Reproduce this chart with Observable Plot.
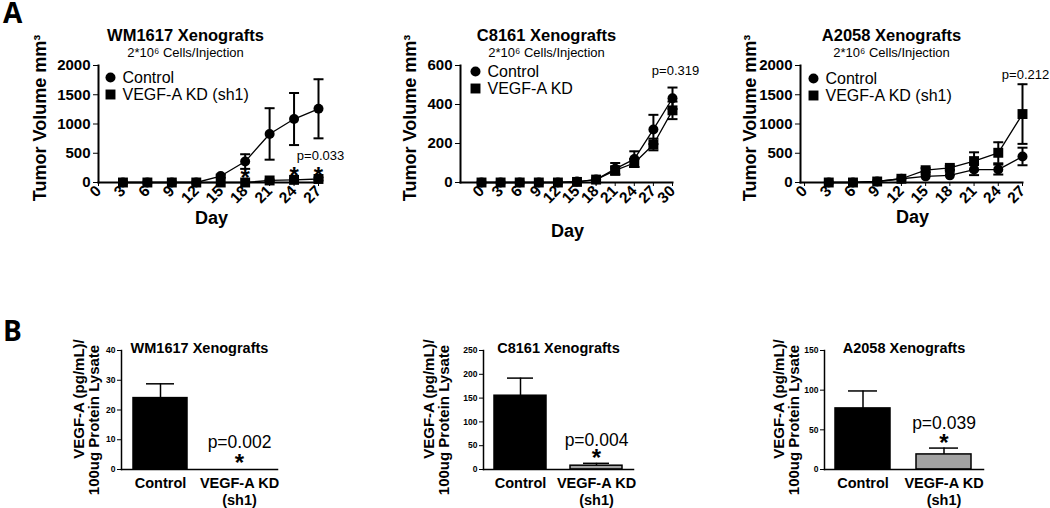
<!DOCTYPE html>
<html><head><meta charset="utf-8">
<script src="https://cdn.jsdelivr.net/npm/d3@7"></script>
<script src="https://cdn.jsdelivr.net/npm/@observablehq/plot@0.6"></script>
<style>
body{margin:0;background:#fff;}
#wrap{position:relative;width:1050px;height:508px;font-family:"Liberation Sans",Arial,sans-serif;overflow:hidden;}
.panel{position:absolute;}
.letter{position:absolute;font-weight:bold;font-size:28px;line-height:28px;font-family:"Open Sans","Liberation Sans",sans-serif;}
</style></head><body><div id="wrap"><div class="letter" style="left:3px;top:-2px;">A</div><div class="letter" style="left:3px;top:316px;">B</div></div>
<script>
// ---------- Panel A data ----------
const seriesNames = ["Control", "VEGF-A KD (sh1)"];
const seriesNamesC8161 = ["Control", "VEGF-A KD"];

const wmDays = [3, 6, 9, 12, 15, 18, 21, 24, 27];
const wmControl = [0, 0, 0, 0, 110, 358, 830, 1085, 1260];
const wmControlErr = [0, 0, 0, 0, 25, 125, 440, 445, 505];
const wmKD = [0, 0, 0, 0, 0, 0, 35, 45, 60];
const wmKDErr = [0, 0, 0, 0, 0, 0, 15, 20, 25];
const wmStarDays = [18, 24, 27];
const wmStarValues = [176, 215, 215];

const c8Days = [0, 3, 6, 9, 12, 15, 18, 21, 24, 27, 30];
const c8Control = [0, 0, 0, 0, 0, 5, 15, 70, 120, 272, 432];
const c8ControlErr = [0, 0, 0, 0, 0, 0, 0, 30, 40, 75, 55];
const c8KD = [0, 0, 0, 0, 0, 3, 15, 62, 100, 195, 370];
const c8KDErr = [0, 0, 0, 0, 0, 0, 0, 20, 20, 30, 45];

const a2Days = [3, 6, 9, 12, 15, 18, 21, 24, 27];
const a2Control = [0, 0, 17, 64, 105, 122, 221, 221, 445];
const a2ControlErr = [0, 0, 0, 0, 0, 0, 95, 85, 150];
const a2KD = [0, 0, 17, 64, 210, 250, 366, 508, 1170];
const a2KDErr = [0, 0, 0, 0, 35, 35, 150, 180, 510];

const xTicks27 = [0, 3, 6, 9, 12, 15, 18, 21, 24, 27];
const xTicks30 = [0, 3, 6, 9, 12, 15, 18, 21, 24, 27, 30];
const yTicks2000 = [0, 500, 1000, 1500, 2000];
const yTicks600 = [0, 200, 400, 600];

const pLabelsA = ["p=0.033", "p=0.319", "p=0.212"];
const pValuesA = [461, 571, 1847];
const titlesA = ["WM1617 Xenografts", "C8161 Xenografts", "A2058 Xenografts"];
const subtitleA = "2*10\u2076 Cells/Injection";
const yTitleA = "Tumor Volume mm\u00B3";
const xTitleA = "Day";

// ---------- Panel B data ----------
const barGroups = ["Control", "VEGF-A KD\n(sh1)"];
const wmBar = [24, 0];
const wmBarErr = [4.8, 0];
const c8Bar = [155, 8];
const c8BarErr = [37, 5];
const a2Bar = [77, 19];
const a2BarErr = [22, 8];
const wmBarTicks = [0, 10, 20, 30, 40];
const c8BarTicks = [0, 50, 100, 150, 200, 250];
const a2BarTicks = [0, 50, 100, 150];
const pLabelsB = ["p=0.002", "p=0.004", "p=0.039"];
const pValuesB = [9.2, 62, 58];
const starValuesB = [4.1, 36, 40.7];
const yTitleB = ["VEGF-A (pg/mL)/", "100ug Protein Lysate"];

const FONT = "'Liberation Sans', Arial, sans-serif";
const capSymbol = {
  draw(ctx, size) {
    const w = Math.sqrt(size / Math.PI);
    ctx.moveTo(-w, 0);
    ctx.lineTo(w, 0);
  }
};

function rows(days, vals, errs, s) {
  return days.map((d, i) => ({day: d, v: vals[i], lo: vals[i] - errs[i], hi: vals[i] + errs[i], e: errs[i], s}));
}

function lineChart(c) {
  const ctrl = rows(c.days, c.ctrl, c.ctrlErr, c.names[0]);
  const kd = rows(c.days, c.kd, c.kdErr, c.names[1]);
  const all = ctrl.concat(kd);
  const withErr = all.filter(d => d.e > 0);
  const marks = [
    Plot.ruleX(withErr, {x: "day", y1: "lo", y2: "hi", stroke: "black", strokeWidth: 2}),
    Plot.dot(withErr, {x: "day", y: "hi", symbol: capSymbol, r: 5, fill: "none", stroke: "black", strokeWidth: 2}),
    Plot.dot(withErr, {x: "day", y: "lo", symbol: capSymbol, r: 5, fill: "none", stroke: "black", strokeWidth: 2}),
    Plot.line(all, {x: "day", y: "v", z: "s", stroke: "black", strokeWidth: 1.3}),
    Plot.dot(ctrl, {x: "day", y: "v", r: 5, fill: "black", stroke: "none"}),
    Plot.dot(kd, {x: "day", y: "v", r: 5.6, symbol: "square", fill: "black", stroke: "none"}),
    Plot.frame({anchor: "left", strokeWidth: 2}),
    Plot.frame({anchor: "bottom", strokeWidth: 2}),
    Plot.axisY({ticks: c.yTicks, tickSize: 5, tickPadding: 3, fontSize: 15, fontWeight: "bold", label: null, tickFormat: d => String(d)}),
    Plot.axisX({ticks: c.xTicks, tickRotate: -45, tickSize: 4, tickPadding: 2, fontSize: 15.5, fontWeight: "bold", label: null, tickFormat: d => String(d)}),
    // legend
    Plot.dot([c.names[0]], {frameAnchor: "top-left", dx: c.lgDx, dy: c.lgDy, r: 5, fill: "black"}),
    Plot.dot([c.names[1]], {frameAnchor: "top-left", dx: c.lgDx, dy: c.lgDy + 17, r: 5.6, symbol: "square", fill: "black"}),
    Plot.text([c.names[0]], {frameAnchor: "top-left", dx: c.lgDx + 12, dy: c.lgDy, text: d => d, textAnchor: "start", lineAnchor: "middle", fontSize: 16}),
    Plot.text([c.names[1]], {frameAnchor: "top-left", dx: c.lgDx + 12, dy: c.lgDy + 17, text: d => d, textAnchor: "start", lineAnchor: "middle", fontSize: 16}),
    // titles
    Plot.text([c.title], {frameAnchor: "top", dx: c.titleDx, dy: -30, text: d => d, fontSize: 16.5, fontWeight: "bold", lineAnchor: "middle", textAnchor: "middle"}),
    Plot.text([subtitleA], {frameAnchor: "top", dx: c.titleDx, dy: -13, text: d => d, fontSize: 13, lineAnchor: "middle", textAnchor: "middle"}),
    Plot.text([xTitleA], {frameAnchor: "bottom", dx: c.dayDx, dy: c.dayDy, text: d => d, fontSize: 18, fontWeight: "bold", lineAnchor: "middle", textAnchor: "middle"}),
    Plot.text([yTitleA], {frameAnchor: "left", dx: c.yTitleDx, dy: -6, rotate: -90, text: d => d, fontSize: 18, fontWeight: "bold", lineAnchor: "middle", textAnchor: "middle"}),
    Plot.text([{day: c.pDay, y: c.pY, t: c.pText}], {x: "day", y: "y", text: "t", dx: c.pDx, fontSize: 13, lineAnchor: "middle"})
  ];
  if (c.stars) {
    marks.push(Plot.text(c.stars, {x: "day", y: "y", text: () => "*", fontSize: 24, fontWeight: "bold", dy: 6, lineAnchor: "middle"}));
  }
  return Plot.plot({
    width: 350, height: 240,
    marginTop: 65, marginBottom: 58, marginLeft: c.mL, marginRight: c.mR,
    style: {fontFamily: FONT, background: "transparent", color: "black", overflow: "visible"},
    x: {domain: c.xDomain},
    y: {domain: [0, c.yMax]},
    marks
  });
}

function barChart(c) {
  const data = barGroups.map((g, i) => ({g, v: c.values[i], hi: c.values[i] + c.errs[i], e: c.errs[i], color: i === 0 ? "black" : "#a3a3a3"}));
  const withErr = data.filter(d => d.e > 0);
  return Plot.plot({
    width: 350, height: 198,
    marginTop: 40, marginBottom: 39, marginLeft: c.mL, marginRight: c.mR,
    style: {fontFamily: FONT, background: "transparent", color: "black", overflow: "visible"},
    x: {type: "band", domain: barGroups, paddingInner: 0.32, paddingOuter: 0.14},
    y: {domain: [0, c.yMax]},
    color: {type: "identity"},
    marks: [
      Plot.ruleX(withErr, {x: "g", y1: "v", y2: "hi", stroke: "black", strokeWidth: 1.5}),
      Plot.tickY(withErr, {x: "g", y: "hi", insetLeft: 13, insetRight: 13, stroke: "black", strokeWidth: 1.5}),
      Plot.barY(data, {x: "g", y: "v", fill: "color", stroke: "black", strokeWidth: 1.5}),
      Plot.frame({anchor: "left", strokeWidth: 1.5}),
      Plot.frame({anchor: "bottom", strokeWidth: 1.5}),
      Plot.axisY({ticks: c.ticks, tickSize: 4, tickPadding: 2, fontSize: 8.5, fontWeight: "bold", label: null, tickFormat: d => String(d)}),
      Plot.axisX({tickSize: 0, tickPadding: 7, fontSize: 14.5, fontWeight: "bold", label: null, lineHeight: 1.15}),
      Plot.text([c.title], {frameAnchor: "top", dy: -2, text: d => d, fontSize: 14.5, fontWeight: "bold", lineAnchor: "middle", textAnchor: "middle"}),
      Plot.text([yTitleB[0]], {frameAnchor: "left", dx: 79 - c.mL, dy: -11, rotate: -90, text: d => d, fontSize: 15, fontWeight: "bold", lineAnchor: "middle", textAnchor: "middle"}),
      Plot.text([yTitleB[1]], {frameAnchor: "left", dx: 94 - c.mL, dy: 10, rotate: -90, text: d => d, fontSize: 15, fontWeight: "bold", lineAnchor: "middle", textAnchor: "middle"}),
      Plot.text([{g: barGroups[1], y: c.pY, t: c.pText}], {x: "g", y: "y", text: "t", fontSize: 17.5, lineAnchor: "middle"}),
      Plot.text([{g: barGroups[1], y: c.starY}], {x: "g", y: "y", text: () => "*", fontSize: 24, fontWeight: "bold", dy: 6, lineAnchor: "middle"})
    ]
  });
}

const wrap = document.getElementById("wrap");
function place(svg, left, top) {
  const d = document.createElement("div");
  d.className = "panel";
  d.style.left = left + "px";
  d.style.top = top + "px";
  d.appendChild(svg);
  wrap.appendChild(d);
}

place(lineChart({
  days: wmDays, ctrl: wmControl, ctrlErr: wmControlErr, kd: wmKD, kdErr: wmKDErr, names: seriesNames,
  xDomain: [0, 27], xTicks: xTicks27, yMax: 2000, yTicks: yTicks2000, mL: 98, mR: 32,
  title: titlesA[0], titleDx: -23, lgDx: 12, lgDy: 12, dayDx: 3, dayDy: 36, yTitleDx: -58,
  pText: pLabelsA[0], pDay: 27, pY: pValuesA[0], pDx: 2,
  stars: wmStarDays.map((d, i) => ({day: d, y: wmStarValues[i]}))
}), 0, 0);

place(lineChart({
  days: c8Days, ctrl: c8Control, ctrlErr: c8ControlErr, kd: c8KD, kdErr: c8KDErr, names: seriesNamesC8161,
  xDomain: [-3.3, 30], xTicks: xTicks30, yMax: 600, yTicks: yTicks600, mL: 110, mR: 28,
  title: titlesA[1], titleDx: -20, lgDx: 15, lgDy: 6, dayDx: 1, dayDy: 49, yTitleDx: -50,
  pText: pLabelsA[1], pDay: 30, pY: pValuesA[1], pDx: 3
}), 350, 0);

place(lineChart({
  days: a2Days, ctrl: a2Control, ctrlErr: a2ControlErr, kd: a2KD, kdErr: a2KDErr, names: seriesNames,
  xDomain: [-0.5, 27], xTicks: xTicks27, yMax: 2000, yTicks: yTicks2000, mL: 100, mR: 28,
  title: titlesA[2], titleDx: -20, lgDx: 13, lgDy: 13, dayDx: 1, dayDy: 35, yTitleDx: -50,
  pText: pLabelsA[2], pDay: 27, pY: pValuesA[2], pDx: 3
}), 700, 0);

place(barChart({values: wmBar, errs: wmBarErr, ticks: wmBarTicks, yMax: 40, mL: 121, mR: 73,
  title: "WM1617 Xenografts", pText: pLabelsB[0], pY: pValuesB[0], starY: starValuesB[0]}), 0, 310);
place(barChart({values: c8Bar, errs: c8BarErr, ticks: c8BarTicks, yMax: 250, mL: 133, mR: 67,
  title: "C8161 Xenografts", pText: pLabelsB[1], pY: pValuesB[1], starY: starValuesB[1]}), 350, 310);
place(barChart({values: a2Bar, errs: a2BarErr, ticks: a2BarTicks, yMax: 150, mL: 124, mR: 67,
  title: "A2058 Xenografts", pText: pLabelsB[2], pY: pValuesB[2], starY: starValuesB[2]}), 700, 310);
</script></body></html>
